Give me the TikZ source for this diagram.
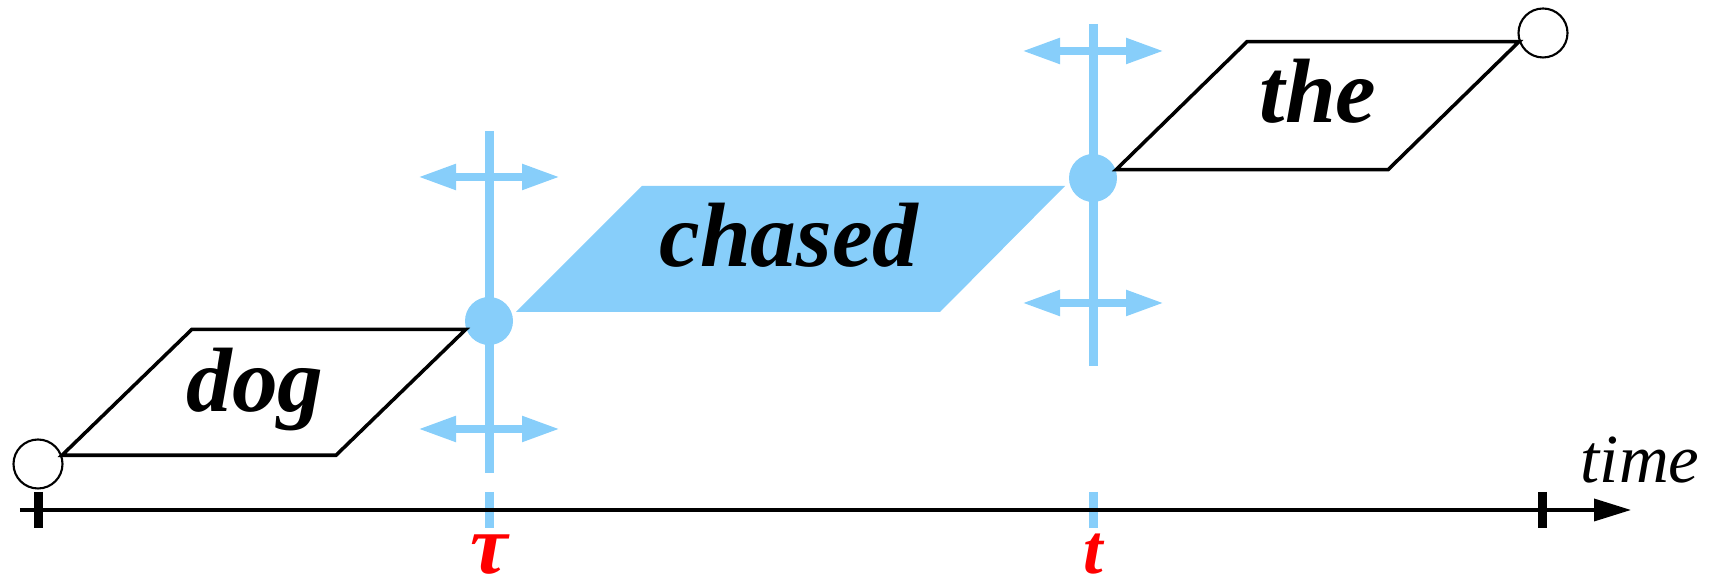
\documentclass[tikz,border=0pt]{standalone}
\usepackage{fontspec}
\setmainfont{Liberation Serif}
\usepackage{xcolor}
\usepackage{tikz}
\usetikzlibrary{arrows.meta, positioning, calc}
\definecolor{spanblue}{RGB}{135,206,250}
\tikzset{
    wordbox/.style={draw=black, line width=1pt, line join=miter},
    wordfill/.style={fill=spanblue},
    wordtext/.style={font=\fontsize{26}{30}\selectfont\bfseries\itshape, anchor=base, inner sep=0pt},
    endpoint/.style={circle, draw=black, fill=white, line width=0.6pt, minimum size=0.49cm, inner sep=0pt},
    splitdot/.style={circle, fill=spanblue, minimum size=0.48cm, inner sep=0pt},
    splitline/.style={spanblue, line width=0.09cm},
    shiftarrow/.style={{Triangle[length=0.38cm, width=0.24cm]}-{Triangle[length=0.38cm, width=0.24cm]}, spanblue, line width=0.08cm},
    timeaxis/.style={-{Triangle[length=0.37cm, width=0.22cm]}, black, line width=1pt},
    timetick/.style={black, line width=0.09cm},
    timelabel/.style={font=\fontsize{#1}{28}\selectfont\bfseries\itshape, text=red, anchor=base, inner sep=0pt},
    axislabel/.style={font=\fontsize{19.6}{24}\selectfont\itshape, anchor=base, inner sep=0pt}
}

\begin{document}
\begin{tikzpicture}
\useasboundingbox (0,0) rectangle (17.12,5.81);

\coordinate (tau top) at (4.89,4.50);
\coordinate (tau bot) at (4.89,1.08);
\coordinate (tau up l) at (4.18,4.04);
\coordinate (tau up r) at (5.60,4.04);
\coordinate (tau dn l) at (4.18,1.52);
\coordinate (tau dn r) at (5.60,1.52);
\coordinate (t top) at (10.93,5.57);
\coordinate (t bot) at (10.93,2.15);
\coordinate (t up l) at (10.22,5.30);
\coordinate (t up r) at (11.64,5.30);
\coordinate (t dn l) at (10.22,2.78);
\coordinate (t dn r) at (11.64,2.78);
\coordinate (axis start) at (0.20,0.71);
\coordinate (axis end) at (16.31,0.71);

\draw[splitline] (tau top) -- (tau bot);
\draw[splitline] (t top) -- (t bot);
\draw[shiftarrow] (tau up l) -- (tau up r);
\draw[shiftarrow] (tau dn l) -- (tau dn r);
\draw[shiftarrow] (t up l) -- (t up r);
\draw[shiftarrow] (t dn l) -- (t dn r);
\draw[splitline] (4.89,0.89) -- (4.89,0.53);
\draw[splitline] (10.93,0.89) -- (10.93,0.53);

\node[endpoint] (start) at (0.38,1.17) {};
\node[endpoint] (stop) at (15.43,5.48) {};
\node[splitdot] (tau dot) at (4.89,2.60) {};
\node[splitdot] (t dot) at (10.93,4.03) {};

\fill[wordfill] (5.16,2.69) -- ++(4.24,0) -- ++(1.25,1.26) -- ++(-4.23,0) -- cycle;
\draw[wordbox] (start.20) -- ++(2.74,0) -- (tau dot.200) -- ++(-2.74,0) -- cycle;
\draw[wordbox] (t dot.20) -- ++(2.72,0) -- (stop.200) -- ++(-2.72,0) -- cycle;

\node[wordtext] (dog) at (2.55,1.69) {dog};
\node[wordtext] (chased) at (7.89,3.14) {chased};
\node[wordtext] (the) at (13.18,4.58) {the};

\draw[timeaxis] (axis start) -- (axis end);
\draw[timetick] (0.386,0.89) -- (0.386,0.53);
\draw[timetick] (15.42,0.89) -- (15.42,0.53);
\node[axislabel] (time) at (16.40,0.98) {time};
\node[timelabel=24] (tau) at (4.89,0.07) {τ};
\node[timelabel=20] (t) at (10.93,0.07) {t};

\end{tikzpicture}
\end{document}
